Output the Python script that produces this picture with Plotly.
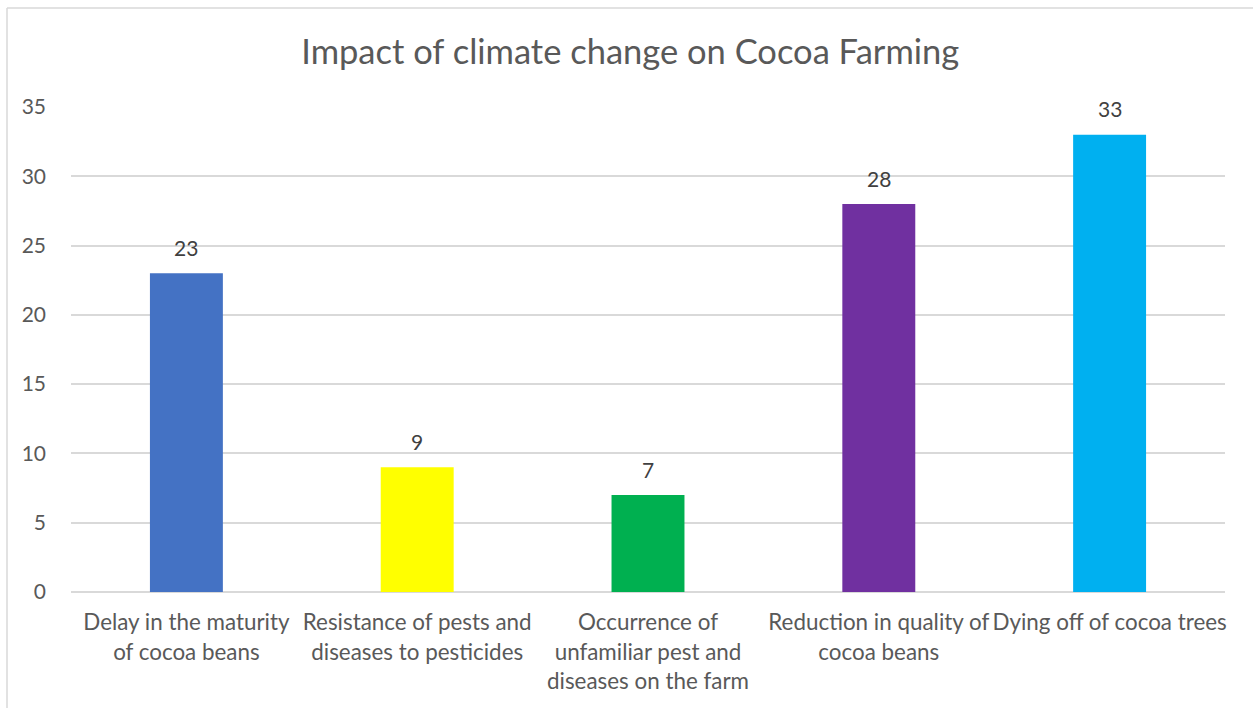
import plotly.graph_objects as go

categories = [
    "Delay in the maturity<br>of cocoa beans",
    "Resistance of pests and<br>diseases to pesticides",
    "Occurrence of<br>unfamiliar pest and<br>diseases on the farm",
    "Reduction in quality of<br>cocoa beans",
    "Dying off of cocoa trees",
]
values = [23, 9, 7, 28, 33]
colors = ["#4472C4", "#FFFF00", "#00B050", "#7030A0", "#00B0F0"]
y_ticks = [0, 5, 10, 15, 20, 25, 30, 35]

FONT = "Lato"

fig = go.Figure()
fig.add_trace(go.Bar(x=categories, y=values, marker=dict(color=colors, line=dict(width=0)),
                     hoverinfo="x+y"))

for c, v in zip(categories, values):
    fig.add_annotation(x=c, y=v, text=str(v), showarrow=False, yanchor="middle", yshift=26,
                       font=dict(family=FONT, size=21, color="#404040"))

fig.update_layout(
    width=1253, height=708,
    margin=dict(l=71, r=28, t=107, b=116),
    paper_bgcolor="white", plot_bgcolor="white",
    bargap=0.684,
    showlegend=False,
    title=dict(text="Impact of climate change on Cocoa Farming", x=0.503, xanchor="center",
               y=0.926, yanchor="middle",
               font=dict(family=FONT, size=34.5, color="#595959")),
    xaxis=dict(showgrid=False, showline=False, ticks="", tickfont=dict(family=FONT, size=22.4, color="#595959"),
               ticklabelstandoff=15),
    yaxis=dict(range=[0, 35], tickvals=y_ticks, showgrid=True, gridcolor="#D9D9D9", gridwidth=1.5,
               zeroline=True, zerolinecolor="#D9D9D9", zerolinewidth=1.5, showline=False, ticks="",
               tickfont=dict(family=FONT, size=21, color="#595959"), ticklabelstandoff=24),
)

# chart border
fig.add_shape(type="line", xref="paper", yref="paper", x0=(7 - 71) / 1154, x1=(1253 - 71) / 1154,
              y0=(592 - 8) / 485, y1=(592 - 8) / 485, line=dict(color="#D9D9D9", width=1.5))
fig.add_shape(type="line", xref="paper", yref="paper", x0=(7 - 71) / 1154, x1=(7 - 71) / 1154,
              y0=(592 - 8) / 485, y1=(592 - 710) / 485, line=dict(color="#D9D9D9", width=1.5))

fig.write_html("out.html")
